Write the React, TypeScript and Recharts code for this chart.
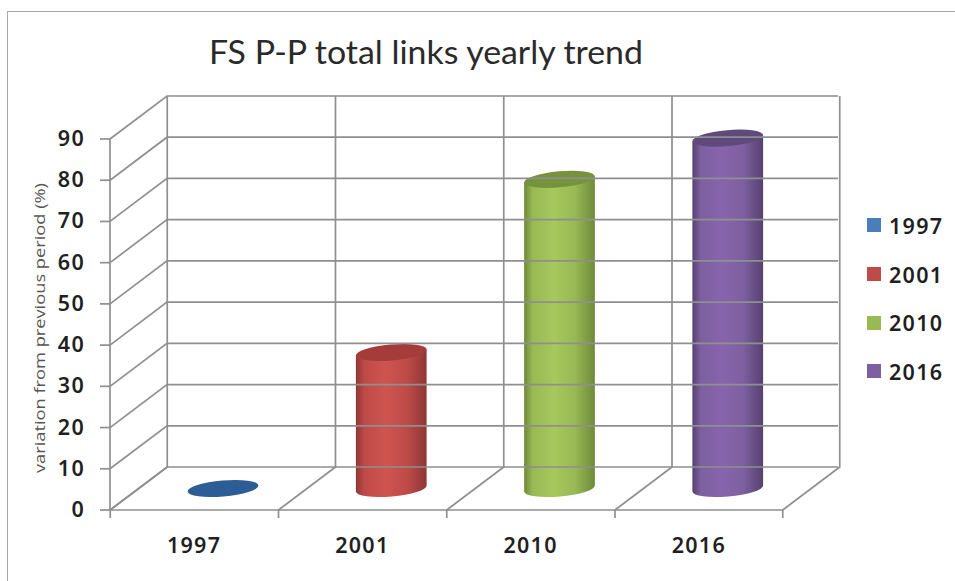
import React from "react";
import { BarChart, Bar, XAxis, YAxis, Legend } from "recharts";

const years = ["1997", "2001", "2010", "2016"];
const linkVariation = [0, 33, 75, 85];
const yTickValues = [0, 10, 20, 30, 40, 50, 60, 70, 80, 90];

// side, lit, shade and cap tones for each cylinder
const legendColors = ["#4a7ebb", "#be4b48", "#98b954", "#7d60a0"];
const litColors = ["#4f86c6", "#cf5450", "#a6c85c", "#8765ad"];
const edgeColors = ["#325f94", "#8f3735", "#6f8a3a", "#56416f"];
const capColors = ["#2c5d94", "#a63c39", "#76923c", "#604a7b"];

const rows = years.map((year, i) => ({ year, value: linkVariation[i] }));

const CHART_W = 955;
const CHART_H = 581;
const PLOT_LEFT = 110;
const PLOT_RIGHT = 781;
const PLOT_TOP = 139;
const PLOT_BOTTOM = 510;
const PLOT_W = PLOT_RIGHT - PLOT_LEFT;
const PLOT_H = PLOT_BOTTOM - PLOT_TOP;
const BAND_W = PLOT_W / years.length;

// oblique projection of the back wall relative to the front axes
const DEPTH_X = 57;
const DEPTH_Y = -43;

const GRID = "#8f8f8f";
const GRID_W = 1.7;
const LABEL = "#1f1f1f";
const LABEL_FONT = "'Noto Sans', sans-serif";
const LABEL_SIZE = 21.5;
const LABEL_SPACING = 1.3;

const Y_TICK_SIZE = 10;
const Y_TICK_MARGIN = 15;
const X_TICK_SIZE = 8;
const X_TICK_MARGIN = 14;

// value label, left wall diagonal and back wall rule for one y tick
function WallTick(props: any) {
  const { x, y, payload } = props;
  const frontX = x + Y_TICK_SIZE + Y_TICK_MARGIN;
  const backX = frontX + DEPTH_X;
  const backY = y + DEPTH_Y;
  return (
    <g>
      <path
        d={`M${frontX} ${y}L${backX} ${backY}L${backX + PLOT_W} ${backY}`}
        fill="none"
        stroke={GRID}
        strokeWidth={GRID_W}
      />
      <text
        x={x}
        y={y + 7}
        textAnchor="end"
        fontFamily={LABEL_FONT}
        fontWeight={600}
        fontSize={LABEL_SIZE}
        letterSpacing={LABEL_SPACING}
        fill={LABEL}
      >
        {payload.value}
      </text>
    </g>
  );
}

function boundaryLines(frontX: number, frontY: number) {
  const backX = frontX + DEPTH_X;
  const backY = frontY + DEPTH_Y;
  return (
    <path
      d={`M${frontX} ${frontY + X_TICK_SIZE}L${frontX} ${frontY}L${backX} ${backY}L${backX} ${backY - PLOT_H}`}
      fill="none"
      stroke={GRID}
      strokeWidth={GRID_W}
    />
  );
}

// category label plus the floor and wall lines at the band boundaries
function FloorTick(props: any) {
  const { x, y, payload, index } = props;
  const frontY = y - X_TICK_SIZE - X_TICK_MARGIN;
  return (
    <g>
      {boundaryLines(x - BAND_W / 2, frontY)}
      {index === years.length - 1 ? boundaryLines(x + BAND_W / 2, frontY) : null}
      <text
        x={x}
        y={y + 21}
        textAnchor="middle"
        fontFamily={LABEL_FONT}
        fontWeight={600}
        fontSize={LABEL_SIZE}
        letterSpacing={LABEL_SPACING}
        fill={LABEL}
      >
        {payload.value}
      </text>
    </g>
  );
}

// cylinder standing mid-depth on the floor, its ellipses tilted by the projection
function Cylinder(props: any) {
  const { x, y, width, height, index } = props;
  const rot = -5;
  const tilt = (rot * Math.PI) / 180;
  const rx = width / 2;
  const ry = 8;
  const cx = x + rx + DEPTH_X / 2;
  const topY = y + DEPTH_Y / 2;
  const bottomY = y + height + DEPTH_Y / 2;
  const ex = rx * Math.cos(tilt);
  const ey = rx * Math.sin(tilt);
  const gradientId = `cylinder-side-${index}`;
  if (height <= 0) {
    return <ellipse cx={cx} cy={bottomY} rx={rx} ry={ry} transform={`rotate(${rot} ${cx} ${bottomY})`} fill={capColors[index]} />;
  }
  return (
    <g>
      <defs>
        <linearGradient id={gradientId} x1="0" y1="0" x2="1" y2="0">
          <stop offset="0" stopColor={edgeColors[index]} />
          <stop offset="0.12" stopColor={legendColors[index]} />
          <stop offset="0.42" stopColor={litColors[index]} />
          <stop offset="0.72" stopColor={legendColors[index]} />
          <stop offset="1" stopColor={edgeColors[index]} />
        </linearGradient>
      </defs>
      <path
        d={`M${cx - ex} ${topY - ey}L${cx - ex} ${bottomY - ey}A${rx} ${ry} ${rot} 0 0 ${cx + ex} ${bottomY + ey}L${cx + ex} ${topY + ey}Z`}
        fill={`url(#${gradientId})`}
      />
      <ellipse cx={cx} cy={topY} rx={rx} ry={ry} transform={`rotate(${rot} ${cx} ${topY})`} fill={capColors[index]} />
    </g>
  );
}

function YearLegend() {
  return (
    <div style={{ fontFamily: LABEL_FONT, fontWeight: 600, fontSize: LABEL_SIZE, letterSpacing: LABEL_SPACING, color: LABEL }}>
      {years.map((year, i) => (
        <div key={year} style={{ display: "flex", alignItems: "center", height: 48.7 }}>
          <span style={{ width: 14, height: 14, background: legendColors[i], marginRight: 8, display: "block" }} />
          <span>{year}</span>
        </div>
      ))}
    </div>
  );
}

export default function App() {
  return (
    <div style={{ position: "absolute", left: 0, top: 0, width: CHART_W, height: CHART_H, background: "#fff" }}>
      <div
        style={{
          position: "absolute",
          left: 7,
          top: 11,
          right: 0,
          bottom: 0,
          borderLeft: "1.5px solid #a6a6a6",
          borderTop: "1.5px solid #a6a6a6",
        }}
      />
      <BarChart
        width={CHART_W}
        height={CHART_H}
        data={rows}
        margin={{ top: PLOT_TOP, right: CHART_W - PLOT_RIGHT - 90, bottom: CHART_H - PLOT_BOTTOM - 50, left: PLOT_LEFT - 60 }}
        style={{ position: "absolute", left: 0, top: 0 }}
      >
        <text x={209} y={63.5} fontFamily="Lato, sans-serif" fontSize={32} fill="#2a2a2a" textLength={434} lengthAdjust="spacingAndGlyphs">
          FS P-P total links yearly trend
        </text>
        <text
          transform="translate(45 473) rotate(-90)"
          fontFamily="'Open Sans', sans-serif"
          fontSize={15}
          fill="#555"
          textLength={290}
          lengthAdjust="spacingAndGlyphs"
        >
          variation from previous period (%)
        </text>
        <YAxis
          type="number"
          width={60}
          domain={[0, 90]}
          ticks={yTickValues}
          interval={0}
          tick={<WallTick />}
          tickSize={Y_TICK_SIZE}
          tickMargin={Y_TICK_MARGIN}
          axisLine={{ stroke: GRID, strokeWidth: GRID_W }}
          tickLine={{ stroke: GRID, strokeWidth: GRID_W }}
        />
        <XAxis
          dataKey="year"
          height={50}
          interval={0}
          tick={<FloorTick />}
          tickSize={X_TICK_SIZE}
          tickMargin={X_TICK_MARGIN}
          axisLine={{ stroke: GRID, strokeWidth: GRID_W }}
          tickLine={false}
        />
        <Bar dataKey="value" barSize={71} isAnimationActive={false} shape={<Cylinder />} />
        <Legend
          layout="vertical"
          align="right"
          verticalAlign="middle"
          width={90}
          content={<YearLegend />}
          wrapperStyle={{ left: 867, top: 201, right: "auto", bottom: "auto", width: 88 }}
        />
      </BarChart>
    </div>
  );
}
